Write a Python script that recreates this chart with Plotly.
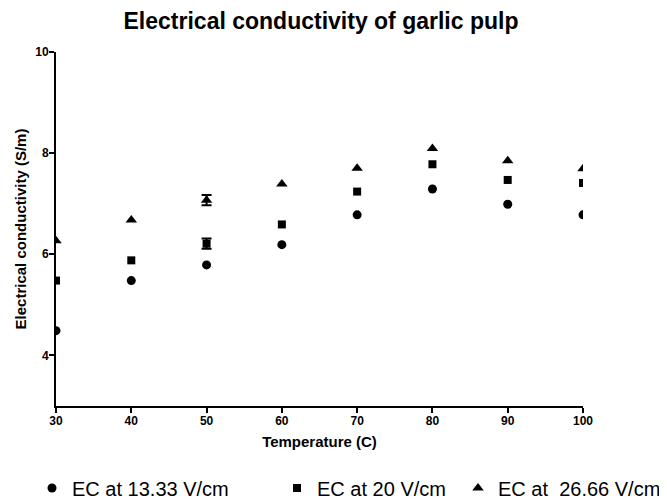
import plotly.graph_objects as go

temperature = [30, 40, 50, 60, 70, 80, 90, 100]
ec_13 = [4.49, 5.48, 5.79, 6.19, 6.78, 7.29, 6.99, 6.78]
ec_20 = [5.48, 5.88, 6.21, 6.59, 7.24, 7.78, 7.47, 7.41]
ec_26 = [6.27, 6.68, 7.07, 7.39, 7.70, 8.09, 7.85, 7.69]
# error bars only visible at 50 C
err_index = 2
err_20 = 0.1
err_26 = 0.1
series_names = ["EC at 13.33 V/cm", "EC at 20 V/cm", "EC at  26.66 V/cm"]
x_ticks = [30, 40, 50, 60, 70, 80, 90, 100]
y_ticks = [4, 6, 8, 10]

FONT = "Liberation Sans, Arial, sans-serif"

# the page body has an 8px margin, so the figure is 8px smaller on each axis
W, H = 659, 492

fig = go.Figure()
fig.add_trace(go.Scatter(x=temperature, y=ec_13, mode="markers", name=series_names[0],
                         marker=dict(symbol="circle", size=9, color="black"),
                         legend="legend"))
fig.add_trace(go.Scatter(x=temperature, y=ec_20, mode="markers", name=series_names[1],
                         marker=dict(symbol="square", size=8, color="black"),
                         legend="legend2"))
fig.add_trace(go.Scatter(x=temperature, y=ec_26, mode="markers", name=series_names[2],
                         marker=dict(symbol="triangle-up", size=10, color="black"),
                         legend="legend3"))
# error bars
fig.add_trace(go.Scatter(x=[temperature[err_index]], y=[ec_20[err_index]], mode="markers",
                         marker=dict(size=1, opacity=0), showlegend=False, hoverinfo="skip",
                         error_y=dict(type="constant", value=err_20, color="black", thickness=2, width=5)))
fig.add_trace(go.Scatter(x=[temperature[err_index]], y=[ec_26[err_index]], mode="markers",
                         marker=dict(size=1, opacity=0), showlegend=False, hoverinfo="skip",
                         error_y=dict(type="constant", value=err_26, color="black", thickness=2, width=5)))

leg_common = dict(orientation="h", xref="paper", yref="paper", yanchor="middle",
                  xanchor="left", font=dict(family=FONT, size=20, color="black"),
                  bgcolor="rgba(0,0,0,0)", itemsizing="trace")

def px_x(p):
    return (p - 56) / 527.0

leg_y = (406 - 488) / 354.0

fig.update_layout(
    width=W, height=H,
    margin=dict(l=48, r=84, t=44, b=94, autoexpand=False),
    paper_bgcolor="white", plot_bgcolor="white",
    title=dict(text="<b>Electrical conductivity of garlic pulp</b>", x=313/W, xanchor="center",
               y=1 - 5/H, yanchor="top", xref="container",
               font=dict(family=FONT, size=23, color="black")),
    xaxis=dict(range=[30, 100], tickvals=x_ticks, ticktext=["<b>%d</b>" % t for t in x_ticks],
               showline=True, linecolor="black", linewidth=2,
               ticks="outside", ticklen=5, tickwidth=2, tickcolor="black",
               showgrid=False, zeroline=False, ticklabelstandoff=-2,
               tickfont=dict(family=FONT, size=12, color="black"),
               title=dict(text="<b>Temperature (C)</b>", standoff=9,
                          font=dict(family=FONT, size=15, color="black"))),
    yaxis=dict(range=[3, 10], tickvals=y_ticks, ticktext=["<b>%d</b>" % t for t in y_ticks],
               showline=True, linecolor="black", linewidth=2,
               ticks="outside", ticklen=5, tickwidth=2, tickcolor="black",
               showgrid=False, zeroline=False, ticklabelstandoff=-2,
               tickfont=dict(family=FONT, size=12, color="black"),
               title=dict(text="<b>Electrical conductivity (S/m)</b>", standoff=5,
                          font=dict(family=FONT, size=15, color="black"))),
    legend=dict(x=px_x(32), y=leg_y, **leg_common),
    legend2=dict(x=px_x(277), y=leg_y, **leg_common),
    legend3=dict(x=px_x(458), y=leg_y, **leg_common),
)

fig.write_html("out.html")
